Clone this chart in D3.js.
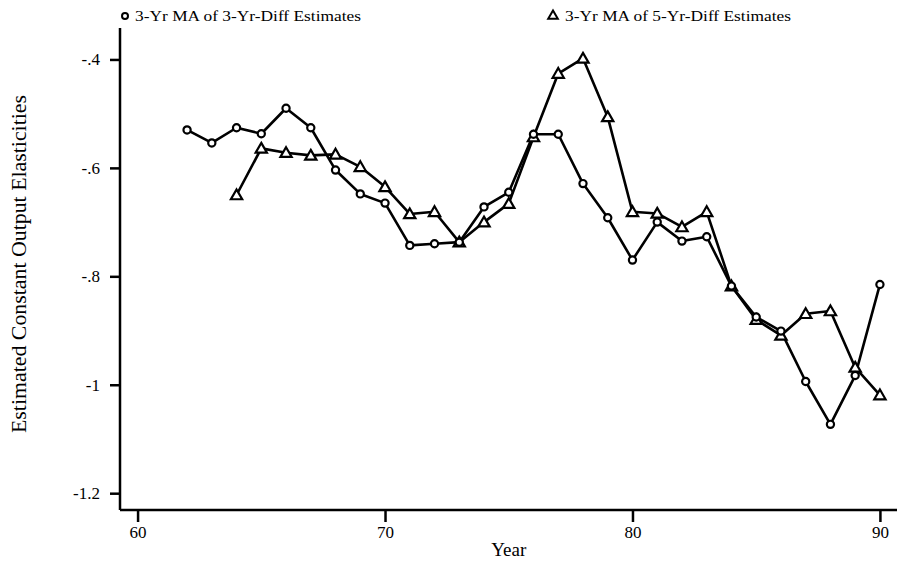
<!DOCTYPE html>
<html>
<head>
<meta charset="utf-8">
<script src="https://d3js.org/d3.v7.min.js"></script>
<style>
  body { margin: 0; background: #fff; }
  svg { display: block; }
  text { font-family: "Liberation Serif", "DejaVu Serif", serif; fill: #000; }
</style>
</head>
<body>
<svg id="chart" width="905" height="561"></svg>
<script>
// data
var years3 = [62, 63, 64, 65, 66, 67, 68, 69, 70, 71, 72, 73, 74, 75, 76,
              77, 78, 79, 80, 81, 82, 83, 84, 85, 86, 87, 88, 89, 90];
var ma3Diff3 = [-0.530, -0.554, -0.526, -0.537, -0.490, -0.526, -0.604, -0.648, -0.665, -0.743,
                -0.740, -0.737, -0.672, -0.645, -0.538, -0.538, -0.629, -0.692, -0.770, -0.700,
                -0.735, -0.727, -0.818, -0.875, -0.901, -0.994, -1.073, -0.983, -0.815];
var years5 = [64, 65, 66, 67, 68, 69, 70, 71, 72, 73, 74, 75, 76, 77,
              78, 79, 80, 81, 82, 83, 84, 85, 86, 87, 88, 89, 90];
var ma3Diff5 = [-0.650, -0.564, -0.572, -0.577, -0.575, -0.598, -0.635, -0.685, -0.681, -0.737,
                -0.700, -0.666, -0.543, -0.426, -0.398, -0.506, -0.681, -0.684, -0.709, -0.681,
                -0.818, -0.880, -0.909, -0.869, -0.864, -0.968, -1.019];
var xTicks = [60, 70, 80, 90];
var yTicks = [-0.4, -0.6, -0.8, -1, -1.2];
var yTickLabels = ["-.4", "-.6", "-.8", "-1", "-1.2"];
var legendLabels = ["3-Yr MA of 3-Yr-Diff Estimates", "3-Yr MA of 5-Yr-Diff Estimates"];

(function(){
  var svg = d3.select("#chart");
  var margin = {top: 28, right: 8, bottom: 51, left: 120};
  var width = 905 - margin.left - margin.right,
      height = 561 - margin.top - margin.bottom;

  var x = d3.scaleLinear().domain([59.29, 90.69]).range([0, width]);
  var y = d3.scaleLinear().domain([-0.342, -1.231]).range([0, height]);

  var g = svg.append("g")
      .attr("transform", "translate(" + margin.left + "," + margin.top + ")");

  // axes
  var xAxis = d3.axisBottom(x).tickValues(xTicks).tickSize(12).tickPadding(4).tickFormat(d3.format("d"));
  var yAxis = d3.axisLeft(y).tickValues(yTicks).tickSize(10).tickPadding(10)
      .tickFormat(function(d, i){ return yTickLabels[i]; });

  var gx = g.append("g")
      .attr("class", "x axis")
      .attr("transform", "translate(0," + height + ")")
      .call(xAxis);
  var gy = g.append("g")
      .attr("class", "y axis")
      .call(yAxis);

  [gx, gy].forEach(function(a){
    a.select(".domain").remove();
    a.selectAll(".tick line").attr("stroke", "#000").attr("stroke-width", 2.5);
    a.selectAll(".tick text").style("font-size", "17px").attr("fill", "#000");
  });

  g.append("line")
      .attr("x1", 0).attr("x2", width)
      .attr("y1", height).attr("y2", height)
      .attr("stroke", "#000").attr("stroke-width", 2.5);
  g.append("line")
      .attr("x1", 0).attr("x2", 0)
      .attr("y1", 0).attr("y2", height)
      .attr("stroke", "#000").attr("stroke-width", 2.5);

  // axis titles
  g.append("text")
      .attr("x", x(75)).attr("y", height + 46)
      .attr("text-anchor", "middle")
      .style("font-size", "19px")
      .text("Year");
  g.append("text")
      .attr("transform", "translate(" + (26 - margin.left) + "," + (height / 2 - 5) + ") rotate(-90)")
      .attr("text-anchor", "middle")
      .attr("textLength", 338)
      .attr("lengthAdjust", "spacingAndGlyphs")
      .style("font-size", "20px")
      .text("Estimated Constant Output Elasticities");

  // lines
  var line = d3.line()
      .x(function(d) { return x(d[0]); })
      .y(function(d) { return y(d[1]); });

  var s3 = d3.zip(years3, ma3Diff3),
      s5 = d3.zip(years5, ma3Diff5);

  [s5, s3].forEach(function(s){
    g.append("path")
        .datum(s)
        .attr("fill", "none")
        .attr("stroke", "#000")
        .attr("stroke-width", 2.6)
        .attr("stroke-linejoin", "round")
        .attr("d", line);
  });

  var tri = d3.symbol().type(d3.symbolTriangle).size(55);

  g.selectAll(".tri")
      .data(s5)
    .enter().append("path")
      .attr("class", "tri")
      .attr("transform", function(d){ return "translate(" + x(d[0]) + "," + (y(d[1]) + 1) + ")"; })
      .attr("d", tri)
      .attr("fill", "#fff")
      .attr("stroke", "#000")
      .attr("stroke-width", 2.2);

  g.selectAll(".dot")
      .data(s3)
    .enter().append("circle")
      .attr("class", "dot")
      .attr("cx", function(d){ return x(d[0]); })
      .attr("cy", function(d){ return y(d[1]); })
      .attr("r", 3.6)
      .attr("fill", "#fff")
      .attr("stroke", "#000")
      .attr("stroke-width", 2.2);

  // legend
  var legend = svg.append("g").attr("class", "legend");
  legend.append("circle")
      .attr("cx", 125).attr("cy", 16).attr("r", 3)
      .attr("fill", "#fff").attr("stroke", "#000").attr("stroke-width", 2);
  legend.append("path")
      .attr("transform", "translate(553,16)")
      .attr("d", d3.symbol().type(d3.symbolTriangle).size(40))
      .attr("fill", "#fff").attr("stroke", "#000").attr("stroke-width", 2);
  legend.selectAll("text")
      .data(legendLabels)
    .enter().append("text")
      .attr("x", function(d, i){ return i === 0 ? 135 : 565; })
      .attr("y", 21)
      .attr("textLength", 226)
      .attr("lengthAdjust", "spacingAndGlyphs")
      .style("font-size", "15px")
      .text(function(d){ return d; });
})();
</script>
</body>
</html>
